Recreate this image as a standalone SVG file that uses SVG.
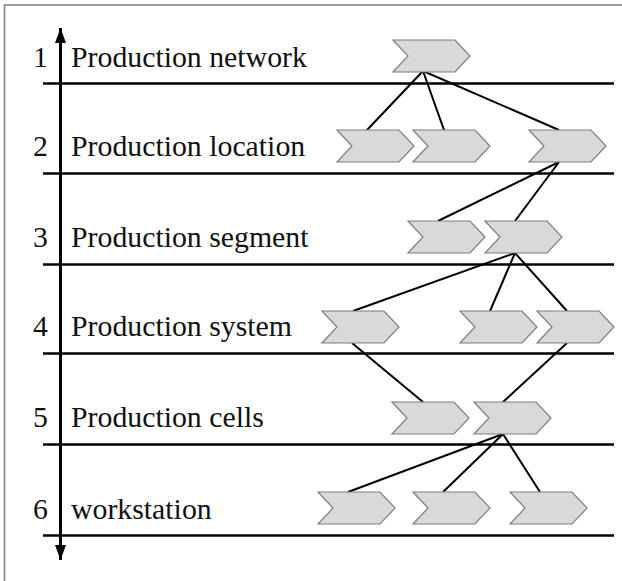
<svg xmlns="http://www.w3.org/2000/svg" width="622" height="581" viewBox="0 0 622 581">
<defs>
<style>
.lvl{stroke:#000;stroke-width:2.5;fill:none}
.con{stroke:#000;stroke-width:2;fill:none}
.chev{fill:#d9d9d9;stroke:#7f7f7f;stroke-width:1.2}
.t{font-family:"Liberation Serif","Times New Roman",serif;font-size:29.8px;fill:#111}
</style>
<polygon id="cv" points="0,0 62,0 77,16 62,32 0,32 15,16"/>
<marker id="ah" viewBox="0 0 15 11" refX="15" refY="5.5" markerWidth="15" markerHeight="11" markerUnits="userSpaceOnUse" orient="auto">
<path d="M0,0 L15,5.5 L0,11 Z" fill="#000"/>
</marker>
</defs>
<rect x="0" y="0" width="622" height="581" fill="#fff"/>
<rect x="4.5" y="5" width="700" height="700" fill="none" stroke="#808080" stroke-width="1.5"/>

<g id="levels">
<line class="lvl" x1="43" y1="83.5" x2="614" y2="83.5"/>
<line class="lvl" x1="43" y1="173.5" x2="614" y2="173.5"/>
<line class="lvl" x1="43" y1="264.5" x2="614" y2="264.5"/>
<line class="lvl" x1="43" y1="353.5" x2="614" y2="353.5"/>
<line class="lvl" x1="43" y1="444.5" x2="614" y2="444.5"/>
<line class="lvl" x1="43" y1="535.5" x2="614" y2="535.5"/>
</g>

<g id="axis">
<line x1="60.5" y1="293" x2="60.5" y2="28" stroke="#000" stroke-width="3" marker-end="url(#ah)"/>
<line x1="60.5" y1="293" x2="60.5" y2="560" stroke="#000" stroke-width="3" marker-end="url(#ah)"/>
</g>

<g id="labels">
<text class="t" x="33" y="66.5">1</text><text class="t" x="71" y="66.5">Production network</text>
<text class="t" x="33" y="156">2</text><text class="t" x="71" y="156">Production location</text>
<text class="t" x="33" y="247">3</text><text class="t" x="71" y="247">Production segment</text>
<text class="t" x="33" y="336">4</text><text class="t" x="71" y="336">Production system</text>
<text class="t" x="33" y="427">5</text><text class="t" x="71" y="427">Production cells</text>
<text class="t" x="33" y="519">6</text><text class="t" x="71" y="519">workstation</text>
</g>

<g id="connectors">
<line class="con" x1="423" y1="71" x2="367" y2="130"/>
<line class="con" x1="423" y1="71" x2="444" y2="130"/>
<line class="con" x1="423" y1="71" x2="559" y2="130"/>
<line class="con" x1="559" y1="162" x2="438" y2="221"/>
<line class="con" x1="559" y1="162" x2="515" y2="221"/>
<line class="con" x1="515" y1="253" x2="353" y2="311"/>
<line class="con" x1="515" y1="253" x2="490" y2="311"/>
<line class="con" x1="515" y1="253" x2="567" y2="311"/>
<line class="con" x1="352" y1="343" x2="423" y2="402"/>
<line class="con" x1="567" y1="343" x2="503" y2="402"/>
<line class="con" x1="503" y1="434" x2="348" y2="492"/>
<line class="con" x1="503" y1="434" x2="443" y2="492"/>
<line class="con" x1="503" y1="434" x2="540" y2="492"/>
</g>

<g id="n1"><use href="#cv" class="chev" x="393" y="40"/></g>
<g id="n2a"><use href="#cv" class="chev" x="337" y="130"/></g>
<g id="n2b"><use href="#cv" class="chev" x="413" y="130"/></g>
<g id="n2c"><use href="#cv" class="chev" x="529" y="130"/></g>
<g id="n3a"><use href="#cv" class="chev" x="408" y="221"/></g>
<g id="n3b"><use href="#cv" class="chev" x="485" y="221"/></g>
<g id="n4a"><use href="#cv" class="chev" x="322" y="311"/></g>
<g id="n4b"><use href="#cv" class="chev" x="460" y="311"/></g>
<g id="n4c"><use href="#cv" class="chev" x="537" y="311"/></g>
<g id="n5a"><use href="#cv" class="chev" x="392" y="402"/></g>
<g id="n5b"><use href="#cv" class="chev" x="474" y="402"/></g>
<g id="n6a"><use href="#cv" class="chev" x="318" y="492"/></g>
<g id="n6b"><use href="#cv" class="chev" x="413" y="492"/></g>
<g id="n6c"><use href="#cv" class="chev" x="510" y="492"/></g>
</svg>
